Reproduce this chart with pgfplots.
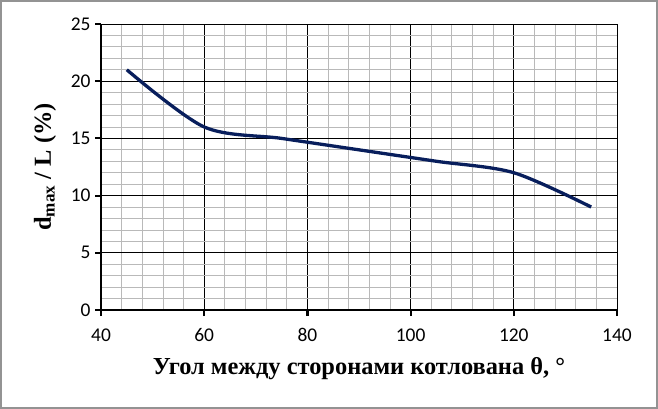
\documentclass[border=0pt]{standalone}
\usepackage{fontspec}
\setmainfont{Liberation Serif}
\newfontfamily\calibri{Carlito}
\usepackage{pgfplots}
\pgfplotsset{compat=1.18}
\definecolor{curve}{RGB}{8,30,92}
\begin{document}
\begin{tikzpicture}
\useasboundingbox (-101bp,-99bp) rectangle (557bp,310bp);
\begin{axis}[at={(0,0)}, anchor=south west, scale only axis,
  width=516bp, height=286bp,
  xmin=40, xmax=140, ymin=0, ymax=25,
  xtick={40,60,...,140}, ytick={0,5,...,25},
  minor x tick num=4, minor y tick num=4,
  grid=both,
  major grid style={black, line width=0.9bp},
  minor grid style={gray!55, line width=0.8bp},
  axis x line=bottom, axis y line=left,
  axis line style={-, black, line width=2.8bp},
  tick align=outside,
  major tick length=6bp, minor tick length=0pt,
  major tick style={black, line width=2.2bp},
  tick label style={font=\calibri\fontsize{19.5}{21}\selectfont},
  /pgf/number format/assume math mode=true,
  xticklabel style={yshift=-9bp},
  yticklabel style={xshift=-1bp},
  xlabel={Угол между сторонами котлована θ, °},
  ylabel={d\textsubscript{max} / L (\%)},
  label style={font=\bfseries\fontsize{24.5}{26}\selectfont},
  xlabel style={at={(axis description cs:0.5,-0.2063)}, anchor=center},
  ylabel style={at={(axis description cs:-0.1085,0.5)}, anchor=center},
  clip=false,
]
\addplot[curve, line width=3.3bp, smooth, tension=0.5] coordinates {
  (45,21) (60,16) (75,15) (90,14) (105,13) (120,12) (135,9)
};
\end{axis}
\draw[color=gray!85, line width=2bp] (-100bp,-98bp) rectangle (556bp,309bp);
\end{tikzpicture}
\end{document}
